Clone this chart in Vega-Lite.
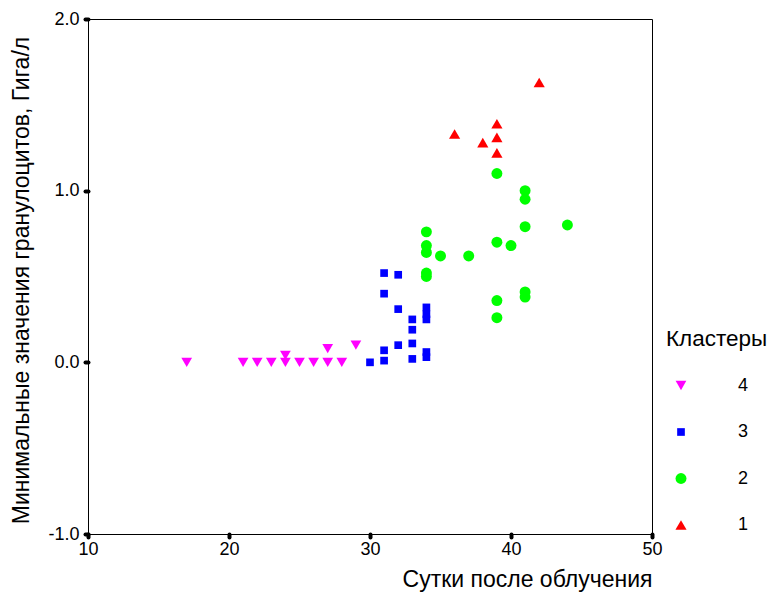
{
  "$schema": "https://vega.github.io/schema/vega-lite/v6.json",
  "width": 564,
  "height": 515,
  "autosize": {"type": "none"},
  "padding": {"left": 88, "top": 19, "right": 120, "bottom": 58},
  "background": "white",
  "config": {
    "font": "Liberation Sans",
    "view": {"stroke": "black", "strokeWidth": 1},
    "axis": {
      "domainColor": "black",
      "domainWidth": 1,
      "tickColor": "black",
      "tickWidth": 4,
      "tickSize": 3,
      "tickCap": "round",
      "grid": false,
      "labelFlush": false,
      "labelFont": "Liberation Sans",
      "labelFontSize": 18,
      "labelColor": "black",
      "titleFont": "Liberation Sans",
      "titleFontSize": 23,
      "titleFontWeight": "normal",
      "titleColor": "black"
    },
    "legend": {
      "titleFont": "Liberation Sans",
      "titleFontSize": 22.5,
      "titleFontWeight": "normal",
      "titleColor": "black",
      "labelFont": "Liberation Sans",
      "labelFontSize": 18,
      "labelColor": "black"
    }
  },
  "data": {
    "values": [
      {"day": 17, "gran": 0.0, "cluster": "4"},
      {"day": 21, "gran": 0.0, "cluster": "4"},
      {"day": 22, "gran": 0.0, "cluster": "4"},
      {"day": 23, "gran": 0.0, "cluster": "4"},
      {"day": 24, "gran": 0.0, "cluster": "4"},
      {"day": 24, "gran": 0.04, "cluster": "4"},
      {"day": 25, "gran": 0.0, "cluster": "4"},
      {"day": 26, "gran": 0.0, "cluster": "4"},
      {"day": 27, "gran": 0.0, "cluster": "4"},
      {"day": 27, "gran": 0.08, "cluster": "4"},
      {"day": 28, "gran": 0.0, "cluster": "4"},
      {"day": 29, "gran": 0.1, "cluster": "4"},
      {"day": 30, "gran": 0.0, "cluster": "3"},
      {"day": 31, "gran": 0.52, "cluster": "3"},
      {"day": 31, "gran": 0.4, "cluster": "3"},
      {"day": 31, "gran": 0.07, "cluster": "3"},
      {"day": 31, "gran": 0.01, "cluster": "3"},
      {"day": 32, "gran": 0.51, "cluster": "3"},
      {"day": 32, "gran": 0.31, "cluster": "3"},
      {"day": 32, "gran": 0.1, "cluster": "3"},
      {"day": 33, "gran": 0.25, "cluster": "3"},
      {"day": 33, "gran": 0.19, "cluster": "3"},
      {"day": 33, "gran": 0.11, "cluster": "3"},
      {"day": 33, "gran": 0.02, "cluster": "3"},
      {"day": 34, "gran": 0.32, "cluster": "3"},
      {"day": 34, "gran": 0.28, "cluster": "3"},
      {"day": 34, "gran": 0.25, "cluster": "3"},
      {"day": 34, "gran": 0.06, "cluster": "3"},
      {"day": 34, "gran": 0.03, "cluster": "3"},
      {"day": 34, "gran": 0.76, "cluster": "2"},
      {"day": 34, "gran": 0.68, "cluster": "2"},
      {"day": 34, "gran": 0.64, "cluster": "2"},
      {"day": 34, "gran": 0.52, "cluster": "2"},
      {"day": 34, "gran": 0.5, "cluster": "2"},
      {"day": 35, "gran": 0.62, "cluster": "2"},
      {"day": 37, "gran": 0.62, "cluster": "2"},
      {"day": 39, "gran": 1.1, "cluster": "2"},
      {"day": 39, "gran": 0.7, "cluster": "2"},
      {"day": 39, "gran": 0.36, "cluster": "2"},
      {"day": 39, "gran": 0.26, "cluster": "2"},
      {"day": 40, "gran": 0.68, "cluster": "2"},
      {"day": 41, "gran": 1.0, "cluster": "2"},
      {"day": 41, "gran": 0.95, "cluster": "2"},
      {"day": 41, "gran": 0.79, "cluster": "2"},
      {"day": 41, "gran": 0.41, "cluster": "2"},
      {"day": 41, "gran": 0.38, "cluster": "2"},
      {"day": 44, "gran": 0.8, "cluster": "2"},
      {"day": 36, "gran": 1.33, "cluster": "1"},
      {"day": 38, "gran": 1.28, "cluster": "1"},
      {"day": 39, "gran": 1.39, "cluster": "1"},
      {"day": 39, "gran": 1.31, "cluster": "1"},
      {"day": 39, "gran": 1.22, "cluster": "1"},
      {"day": 42, "gran": 1.63, "cluster": "1"}
    ]
  },
  "mark": {"type": "point", "filled": true, "opacity": 1},
  "encoding": {
    "x": {
      "field": "day",
      "type": "quantitative",
      "scale": {"domain": [10, 50], "nice": false, "zero": false},
      "axis": {
        "values": [10, 20, 30, 40, 50],
        "labelPadding": 3,
        "title": "Сутки после облучения",
        "titleAnchor": "end",
        "titleAlign": "right",
        "titleBaseline": "alphabetic",
        "titleX": 564,
        "titleY": 52
      }
    },
    "y": {
      "field": "gran",
      "type": "quantitative",
      "scale": {"domain": [-1, 2], "nice": false, "zero": false},
      "axis": {
        "values": [-1, 0, 1, 2],
        "labelExpr": "replace(format(datum.value, '.1f'), '\u2212', '-')",
        "labelPadding": 6,
        "title": "Минимальные значения гранулоцитов, Гига/л",
        "titleAngle": -90,
        "titleAlign": "center",
        "titleBaseline": "middle",
        "titleX": -67,
        "titleY": 261,
        "encode": {"labels": {"update": {"dy": {"signal": "datum.value === -1 ? -9 : 0"}}}}
      }
    },
    "color": {
      "field": "cluster",
      "type": "nominal",
      "scale": {"domain": ["4", "3", "2", "1"], "range": ["#ff00ff", "#0000ff", "#00ff00", "#ff0000"]},
      "legend": {
        "title": "Кластеры",
        "orient": "none",
        "legendX": 578,
        "legendY": 309,
        "titlePadding": 26,
        "rowPadding": 28.5,
        "labelOffset": 48,
        "symbolOffset": 6,
        "encode": {"labels": {"update": {"dy": {"value": 4}}}}
      }
    },
    "shape": {
      "field": "cluster",
      "type": "nominal",
      "scale": {"domain": ["4", "3", "2", "1"], "range": ["triangle-down", "square", "circle", "triangle-up"]}
    },
    "size": {
      "field": "cluster",
      "type": "nominal",
      "scale": {"type": "ordinal", "domain": ["4", "3", "2", "1"], "range": [115, 59, 120, 125]}
    }
  }
}
